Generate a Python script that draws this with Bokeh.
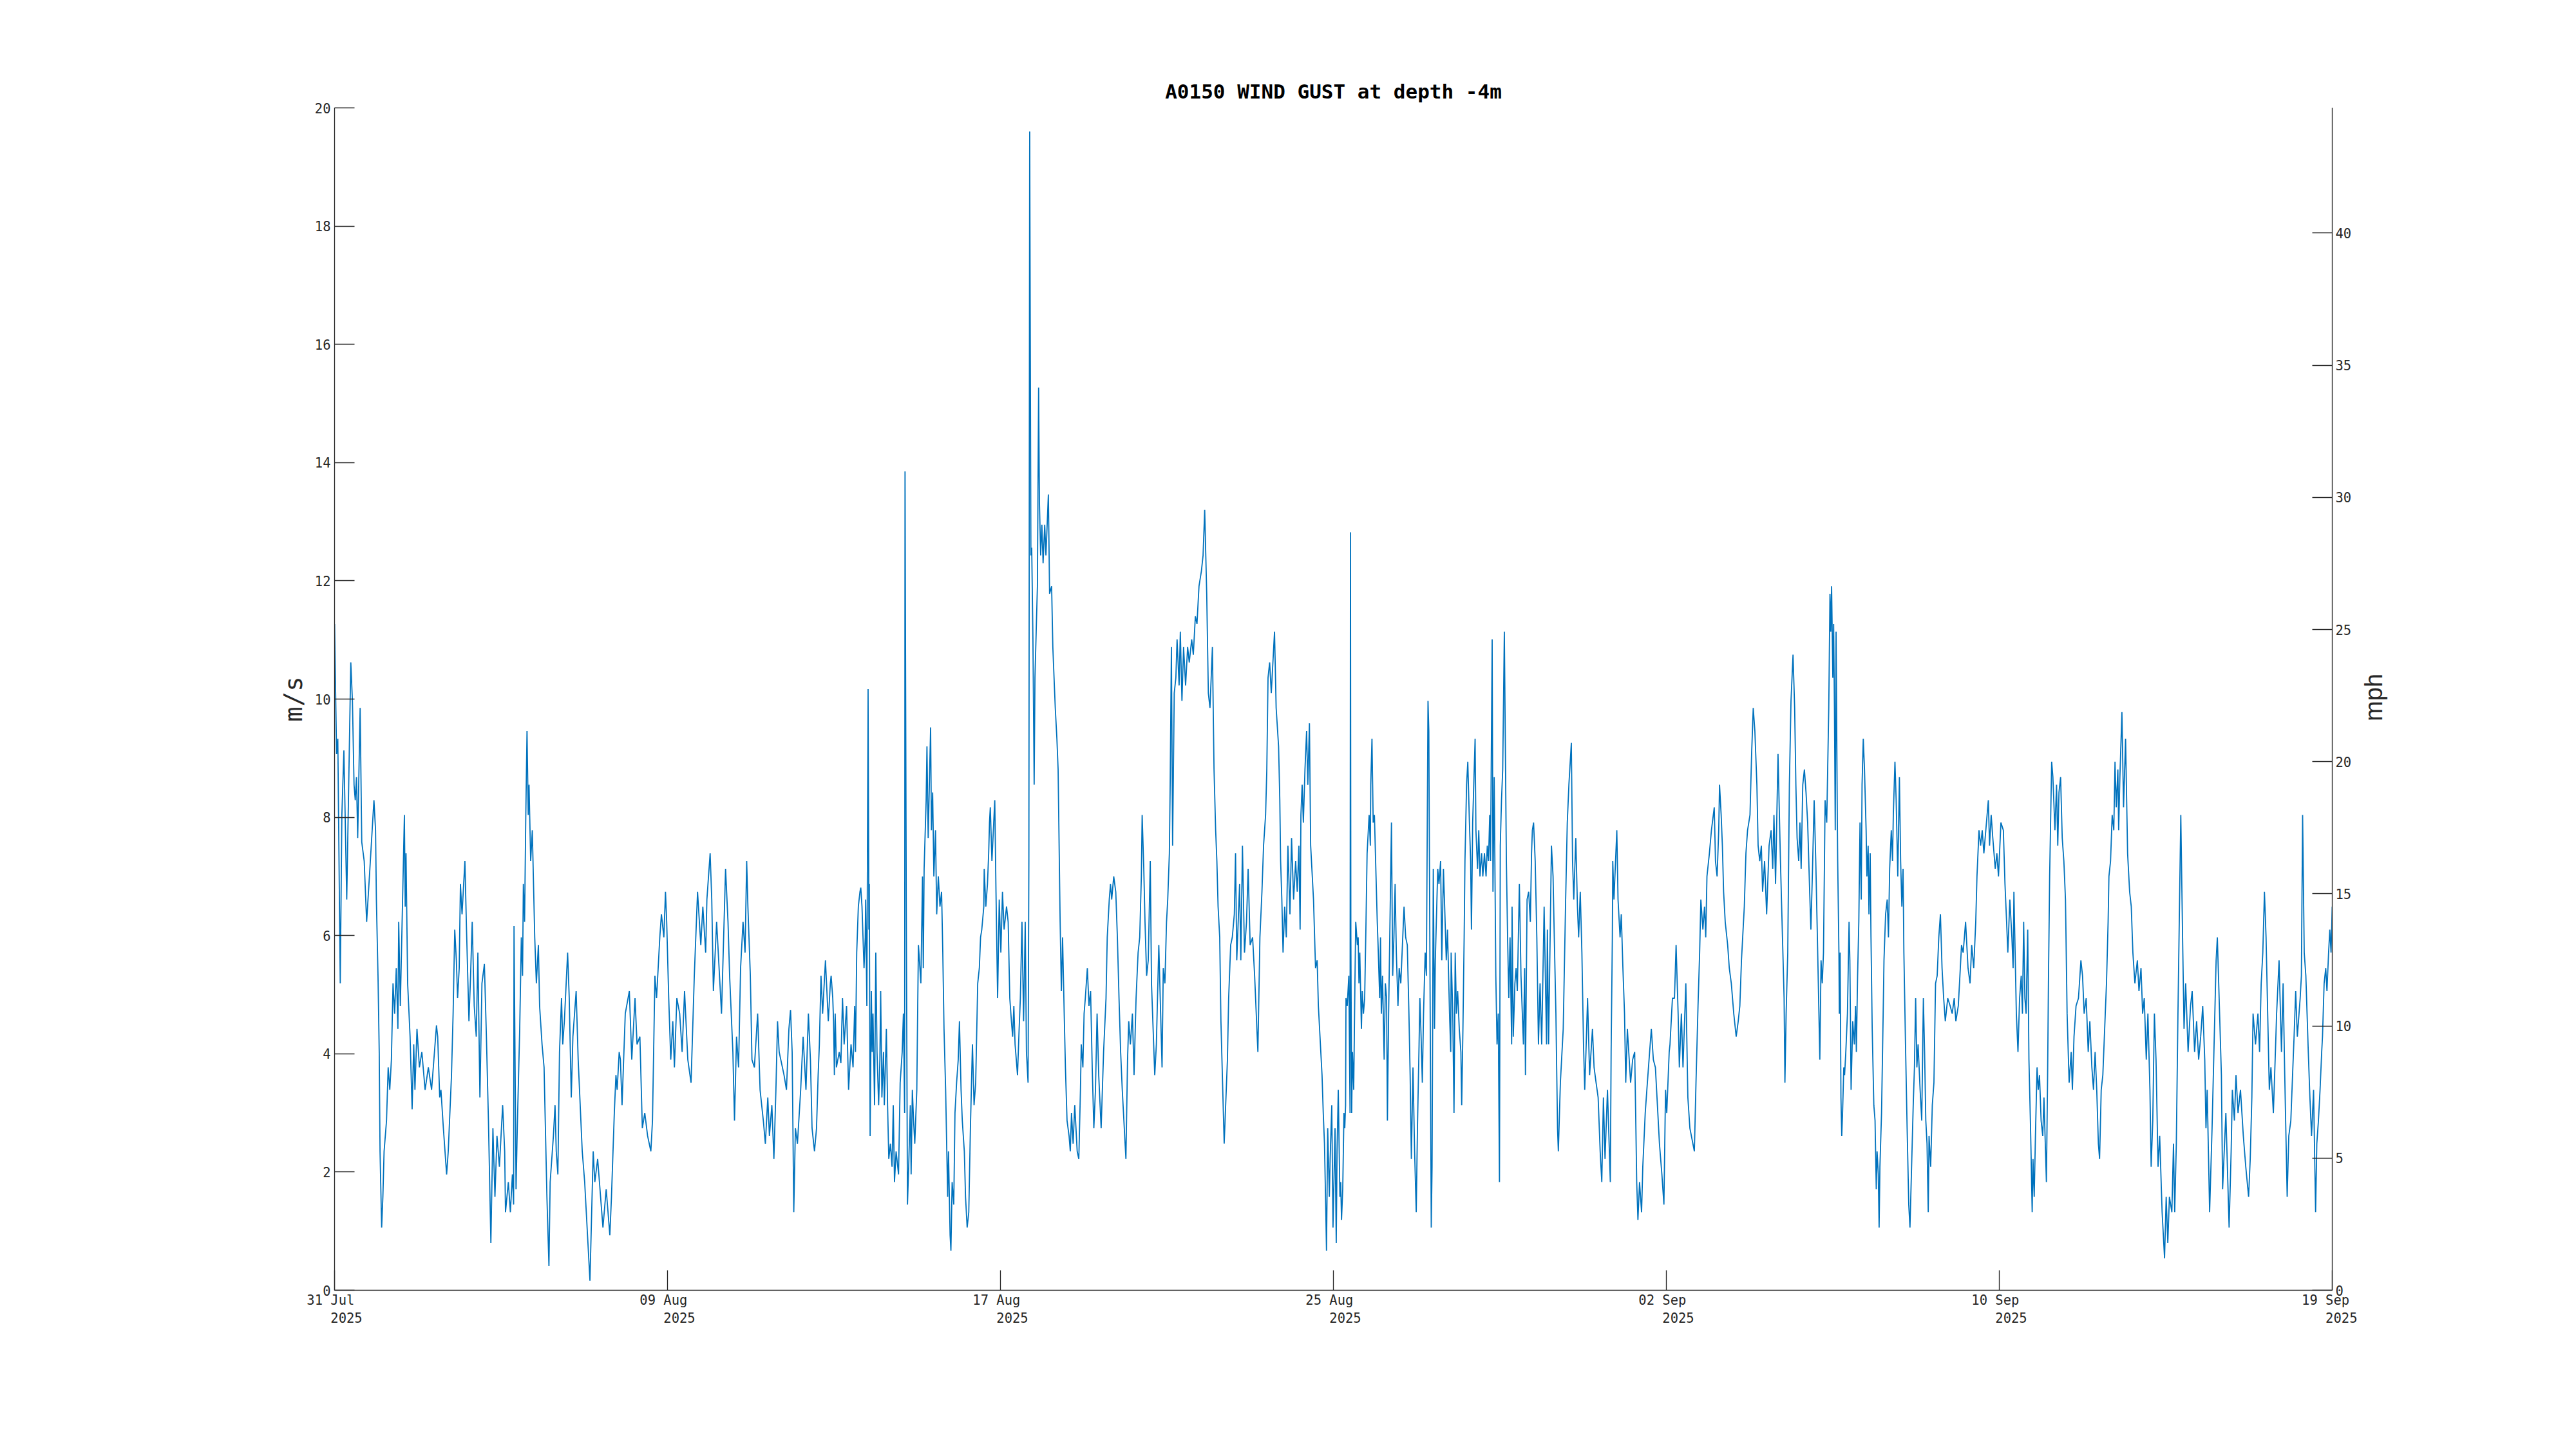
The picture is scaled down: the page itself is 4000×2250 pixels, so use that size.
import math
from bokeh.plotting import figure
from bokeh.layouts import row
from bokeh.models import ColumnDataSource, Range1d, LinearAxis, FixedTicker, Label
from bokeh.embed import file_html
from bokeh.resources import INLINE

TITLE = "A0150 WIND GUST at depth -4m"
Y_LABEL_LEFT = "m/s"
Y_LABEL_RIGHT = "mph"
MS_TO_MPH = 2.23694

# x is days since 31 Jul 2025 ~20:00 (start of record)
x_start, x_end = 0.0, 49.2
tick_days = [0.0, 8.2, 16.4, 24.6, 32.8, 41.0, 49.2]
tick_dates = ["31 Jul", "09 Aug", "17 Aug", "25 Aug", "02 Sep", "10 Sep", "19 Sep"]
tick_year = "2025"
left_ticks = [0, 2, 4, 6, 8, 10, 12, 14, 16, 18, 20]
right_ticks = [0, 5, 10, 15, 20, 25, 30, 35, 40]
y_min, y_max = 0, 20

# (day, gust m/s)
gust_jul31_aug12 = [
    (0.00, 11.27), (0.05, 9.07), (0.08, 9.33), (0.14, 5.19), (0.18, 8.04), (0.23, 9.13), (0.30, 6.61), (0.40, 10.62),
    (0.44, 9.97), (0.48, 8.55), (0.51, 8.29), (0.54, 8.68), (0.57, 7.65), (0.63, 9.85), (0.67, 7.58), (0.73, 7.26),
    (0.79, 6.23), (0.87, 7.13), (0.97, 8.29), (1.01, 7.78), (1.03, 6.61), (1.07, 5.32), (1.10, 4.03), (1.12, 2.35),
    (1.16, 1.06), (1.19, 1.58), (1.22, 2.35), (1.28, 2.87), (1.32, 3.77), (1.36, 3.39), (1.40, 3.90), (1.44, 5.19),
    (1.48, 4.68), (1.52, 5.45), (1.56, 4.42), (1.58, 6.23), (1.62, 4.81), (1.72, 8.04), (1.74, 6.49), (1.76, 7.39),
    (1.80, 5.19), (1.86, 4.29), (1.91, 3.06), (1.95, 4.16), (1.98, 3.39), (2.03, 4.42), (2.09, 3.77), (2.15, 4.03),
    (2.23, 3.39), (2.31, 3.77), (2.39, 3.39), (2.51, 4.48), (2.54, 4.29), (2.59, 3.26), (2.62, 3.39), (2.68, 2.74),
    (2.76, 1.96), (2.80, 2.35), (2.88, 3.64), (2.92, 4.68), (2.96, 6.10), (3.00, 5.58), (3.03, 4.94), (3.07, 5.45),
    (3.10, 6.87), (3.14, 6.36), (3.21, 7.26), (3.25, 6.10), (3.31, 4.55), (3.35, 5.32), (3.39, 6.23), (3.44, 4.81),
    (3.49, 4.29), (3.53, 5.71), (3.58, 3.26), (3.63, 5.19), (3.69, 5.52), (3.74, 4.29), (3.79, 2.87), (3.85, 0.80),
    (3.90, 2.74), (3.95, 1.58), (4.00, 2.61), (4.06, 2.09), (4.14, 3.13), (4.19, 2.35), (4.21, 1.32), (4.28, 1.83),
    (4.33, 1.32), (4.38, 1.96), (4.41, 1.45), (4.42, 6.16), (4.47, 1.71), (4.50, 2.74), (4.56, 4.42), (4.60, 5.97),
    (4.63, 5.32), (4.65, 6.87), (4.68, 6.23), (4.71, 8.04), (4.74, 9.46), (4.77, 8.04), (4.79, 8.55), (4.83, 7.26),
    (4.87, 7.78), (4.93, 5.97), (4.97, 5.19), (5.02, 5.84), (5.05, 4.81), (5.11, 4.16), (5.16, 3.77), (5.23, 1.58),
    (5.28, 0.41), (5.31, 1.83), (5.39, 2.61), (5.43, 3.13), (5.46, 2.35), (5.50, 1.96), (5.54, 4.03), (5.59, 4.94),
    (5.62, 4.16), (5.66, 4.55), (5.74, 5.71), (5.78, 4.94), (5.83, 3.26), (5.87, 4.29), (5.95, 5.06), (6.00, 3.90),
    (6.10, 2.35), (6.16, 1.83), (6.22, 1.06), (6.29, 0.16), (6.37, 2.35), (6.41, 1.83), (6.48, 2.22), (6.61, 1.06),
    (6.69, 1.71), (6.78, 0.93), (6.82, 1.58), (6.89, 3.00), (6.93, 3.64), (6.96, 3.39), (7.01, 4.03), (7.04, 3.90),
    (7.08, 3.13), (7.16, 4.68), (7.26, 5.06), (7.32, 3.90), (7.40, 4.94), (7.45, 4.16), (7.52, 4.29), (7.58, 2.74),
    (7.64, 3.00), (7.71, 2.61), (7.79, 2.35), (7.83, 2.87), (7.89, 5.32), (7.93, 4.94), (7.97, 5.45), (8.01, 5.97),
    (8.05, 6.36), (8.11, 5.97), (8.15, 6.74), (8.18, 6.23), (8.23, 4.94), (8.28, 3.90), (8.33, 4.55), (8.37, 3.77),
    (8.43, 4.94), (8.50, 4.68), (8.56, 4.03), (8.62, 5.06), (8.70, 3.90), (8.78, 3.51), (8.86, 5.32), (8.94, 6.74),
    (9.02, 5.84), (9.07, 6.49), (9.14, 5.71), (9.17, 6.61), (9.25, 7.39), (9.29, 6.61), (9.33, 5.06), (9.41, 6.23),
    (9.53, 4.68), (9.63, 7.13), (9.69, 6.23), (9.73, 5.32), (9.81, 4.03), (9.85, 2.87), (9.90, 4.29), (9.95, 3.77),
    (10.00, 5.45), (10.06, 6.23), (10.11, 5.71), (10.15, 7.26), (10.18, 6.49), (10.24, 5.32), (10.28, 3.90), (10.34, 3.77),
    (10.42, 4.68), (10.48, 3.39), (10.56, 2.87), (10.61, 2.48), (10.67, 3.26), (10.71, 2.61), (10.77, 3.13), (10.82, 2.22),
    (10.87, 3.39), (10.91, 4.55), (10.95, 4.03), (11.07, 3.64), (11.13, 3.39), (11.19, 4.42), (11.23, 4.74), (11.27, 4.03),
    (11.31, 1.32), (11.35, 2.74), (11.40, 2.48), (11.48, 3.39), (11.54, 4.29), (11.61, 3.39), (11.67, 4.68), (11.72, 3.90),
    (11.76, 2.74), (11.82, 2.35), (11.87, 2.74), (11.91, 3.64), (11.94, 4.16), (11.98, 5.32), (12.02, 4.68), (12.09, 5.58),
    (12.16, 4.55), (12.21, 5.19),
]

gust_aug12_aug25 = [
    (12.23, 5.32), (12.27, 4.94), (12.29, 4.55), (12.31, 3.64), (12.33, 4.68), (12.36, 3.77), (12.43, 4.03), (12.47, 3.84),
    (12.51, 4.94), (12.55, 4.16), (12.61, 4.81), (12.66, 3.39), (12.72, 4.16), (12.77, 3.77), (12.81, 4.81), (12.83, 4.03),
    (12.86, 5.71), (12.90, 6.49), (12.94, 6.74), (12.96, 6.81), (12.99, 6.49), (13.04, 5.45), (13.07, 5.97), (13.08, 6.61),
    (13.11, 4.81), (13.14, 10.17), (13.16, 6.10), (13.17, 6.87), (13.19, 2.61), (13.22, 5.06), (13.24, 4.03), (13.26, 4.68),
    (13.30, 3.13), (13.33, 5.71), (13.36, 4.03), (13.40, 3.13), (13.43, 3.90), (13.45, 5.06), (13.48, 3.26), (13.52, 4.03),
    (13.54, 3.13), (13.59, 4.42), (13.62, 3.13), (13.65, 2.22), (13.69, 2.48), (13.73, 2.09), (13.76, 3.13), (13.79, 1.83),
    (13.83, 2.35), (13.89, 1.96), (13.93, 3.51), (13.98, 4.03), (14.01, 4.68), (14.04, 3.00), (14.05, 13.85), (14.08, 6.61),
    (14.11, 1.45), (14.14, 2.09), (14.18, 3.13), (14.20, 1.96), (14.23, 3.39), (14.26, 2.87), (14.29, 2.48), (14.34, 3.39),
    (14.36, 4.68), (14.38, 5.84), (14.44, 5.19), (14.48, 7.00), (14.50, 5.45), (14.52, 7.13), (14.57, 8.29), (14.59, 9.20),
    (14.62, 7.65), (14.68, 9.52), (14.70, 7.78), (14.73, 8.42), (14.76, 7.00), (14.80, 7.78), (14.83, 6.36), (14.87, 7.00),
    (14.91, 6.49), (14.95, 6.74), (14.98, 5.71), (15.01, 4.42), (15.05, 3.39), (15.10, 1.58), (15.12, 2.35), (15.16, 0.93),
    (15.18, 0.67), (15.21, 1.83), (15.25, 1.45), (15.28, 3.00), (15.32, 3.51), (15.36, 3.90), (15.39, 4.55), (15.43, 3.39),
    (15.46, 2.87), (15.51, 2.35), (15.54, 1.58), (15.58, 1.06), (15.62, 1.32), (15.66, 2.74), (15.71, 4.16), (15.75, 3.13),
    (15.79, 3.51), (15.84, 5.19), (15.88, 5.45), (15.91, 5.97), (15.94, 6.10), (15.99, 6.49), (16.00, 7.13), (16.04, 6.49),
    (16.08, 6.87), (16.11, 7.39), (16.13, 7.91), (16.15, 8.17), (16.19, 7.26), (16.26, 8.29), (16.29, 6.74), (16.33, 4.94),
    (16.37, 6.61), (16.41, 5.71), (16.45, 6.74), (16.49, 6.10), (16.55, 6.49), (16.59, 6.23), (16.63, 4.94), (16.67, 4.55),
    (16.70, 4.29), (16.73, 4.81), (16.76, 4.16), (16.82, 3.64), (16.86, 4.42), (16.89, 4.94), (16.93, 6.23), (16.97, 4.55),
    (17.01, 6.23), (17.04, 4.03), (17.08, 3.51), (17.10, 7.26), (17.12, 19.60), (17.15, 12.43), (17.17, 12.56), (17.20, 11.01),
    (17.23, 8.55), (17.25, 10.36), (17.28, 11.14), (17.31, 11.91), (17.34, 15.27), (17.36, 13.33), (17.39, 12.43), (17.42, 12.95),
    (17.45, 12.30), (17.49, 12.95), (17.52, 12.43), (17.58, 13.46), (17.61, 11.78), (17.66, 11.91), (17.69, 10.88), (17.72, 10.36),
    (17.75, 9.85), (17.79, 9.33), (17.82, 8.81), (17.85, 7.26), (17.87, 6.23), (17.90, 5.06), (17.93, 5.97), (17.97, 4.68),
    (18.00, 3.77), (18.04, 2.87), (18.09, 2.61), (18.12, 2.35), (18.15, 3.00), (18.19, 2.48), (18.23, 3.13), (18.29, 2.35),
    (18.33, 2.22), (18.37, 3.39), (18.39, 4.16), (18.43, 3.77), (18.46, 4.68), (18.49, 4.94), (18.54, 5.45), (18.58, 4.81),
    (18.62, 5.06), (18.66, 3.77), (18.70, 2.74), (18.74, 3.39), (18.78, 4.68), (18.82, 3.64), (18.88, 2.74), (18.94, 4.03),
    (19.00, 4.94), (19.03, 5.97), (19.08, 6.61), (19.11, 6.87), (19.14, 6.61), (19.19, 7.00), (19.24, 6.74), (19.28, 5.97),
    (19.32, 4.94), (19.36, 4.03), (19.40, 3.39), (19.44, 2.87), (19.49, 2.22), (19.53, 3.90), (19.56, 4.55), (19.60, 4.16),
    (19.65, 4.68), (19.69, 3.64), (19.74, 4.94), (19.79, 5.71), (19.83, 5.97), (19.87, 7.00), (19.89, 8.04), (19.93, 7.13),
    (19.96, 6.23), (20.00, 5.32), (20.04, 5.58), (20.09, 7.26), (20.12, 5.19), (20.16, 4.42), (20.20, 3.64), (20.24, 4.16),
    (20.30, 5.84), (20.34, 4.81), (20.38, 3.77), (20.41, 5.45), (20.45, 5.19), (20.49, 6.23), (20.52, 6.61), (20.56, 7.39),
    (20.58, 8.55), (20.61, 10.88), (20.64, 7.52), (20.68, 10.10), (20.72, 10.36), (20.75, 11.01), (20.80, 10.23), (20.83, 11.14),
    (20.87, 9.97), (20.91, 10.88), (20.96, 10.23), (21.01, 10.88), (21.05, 10.62), (21.11, 11.01), (21.15, 10.75), (21.20, 11.40),
    (21.24, 11.27), (21.29, 11.91), (21.35, 12.17), (21.39, 12.43), (21.43, 13.20), (21.48, 11.78), (21.52, 10.10), (21.56, 9.85),
    (21.59, 10.36), (21.62, 10.88), (21.66, 8.81), (21.70, 7.78), (21.73, 7.26), (21.76, 6.49), (21.80, 5.97), (21.83, 4.55),
    (21.91, 2.48), (21.99, 3.90), (22.02, 4.94), (22.07, 5.84), (22.11, 5.97), (22.16, 6.36), (22.19, 7.39), (22.22, 5.58),
    (22.29, 6.87), (22.32, 5.58), (22.36, 7.52), (22.41, 5.71), (22.46, 6.23), (22.50, 7.13), (22.55, 5.84), (22.61, 5.97),
    (22.66, 5.32), (22.74, 4.03), (22.79, 5.97), (22.84, 6.74), (22.88, 7.52), (22.93, 8.04), (22.96, 8.81), (22.99, 10.36),
    (23.03, 10.62), (23.07, 10.10), (23.15, 11.14), (23.19, 9.85), (23.25, 9.20), (23.28, 8.29), (23.30, 7.26), (23.33, 6.61),
    (23.36, 5.71), (23.40, 6.49), (23.44, 5.97), (23.48, 7.52), (23.53, 6.36), (23.57, 7.65), (23.62, 6.61), (23.67, 7.26),
    (23.71, 6.74), (23.75, 7.52), (23.78, 6.10), (23.80, 8.04), (23.83, 8.55), (23.86, 7.91), (23.90, 8.81), (23.94, 9.46),
    (23.97, 8.55), (24.01, 9.59), (24.04, 7.52), (24.07, 7.13), (24.11, 6.61), (24.16, 5.45), (24.20, 5.58), (24.23, 4.81),
    (24.27, 4.29), (24.32, 3.64), (24.35, 3.00), (24.38, 2.48), (24.41, 1.45), (24.43, 0.67), (24.46, 2.74), (24.50, 1.58),
]

gust_aug25_sep06 = [
    (24.52, 2.22), (24.56, 3.13), (24.59, 1.06), (24.64, 2.74), (24.67, 0.80), (24.69, 2.35), (24.72, 3.39), (24.76, 1.58),
    (24.78, 1.83), (24.80, 1.19), (24.83, 1.71), (24.86, 3.00), (24.88, 2.74), (24.90, 3.13), (24.91, 4.94), (24.94, 4.81),
    (24.98, 5.32), (25.01, 3.00), (25.02, 12.82), (25.03, 5.97), (25.05, 3.00), (25.07, 4.03), (25.10, 3.39), (25.13, 5.19),
    (25.15, 6.23), (25.19, 5.84), (25.21, 5.97), (25.23, 5.19), (25.25, 5.71), (25.29, 4.42), (25.31, 5.06), (25.34, 4.68),
    (25.37, 4.94), (25.40, 6.10), (25.43, 7.39), (25.46, 7.78), (25.48, 8.04), (25.51, 7.52), (25.52, 8.55), (25.55, 9.33),
    (25.58, 7.91), (25.61, 8.04), (25.65, 7.00), (25.68, 6.23), (25.70, 5.84), (25.74, 4.94), (25.76, 5.97), (25.78, 4.68),
    (25.81, 5.32), (25.85, 3.90), (25.88, 5.19), (25.91, 4.94), (25.93, 2.87), (25.96, 4.68), (26.03, 7.91), (26.06, 5.32),
    (26.09, 5.97), (26.12, 6.87), (26.15, 5.71), (26.19, 4.81), (26.22, 5.45), (26.26, 5.19), (26.30, 5.84), (26.34, 6.49),
    (26.38, 5.97), (26.42, 5.84), (26.46, 4.68), (26.49, 3.64), (26.52, 2.22), (26.56, 3.77), (26.60, 2.35), (26.64, 1.32),
    (26.67, 2.74), (26.71, 4.16), (26.73, 4.94), (26.76, 4.29), (26.79, 3.51), (26.82, 4.68), (26.86, 5.71), (26.89, 5.32),
    (26.93, 9.97), (26.95, 9.46), (26.97, 6.61), (27.01, 1.06), (27.03, 2.09), (27.06, 7.13), (27.09, 4.42), (27.11, 5.58),
    (27.17, 7.13), (27.20, 6.87), (27.24, 7.26), (27.27, 5.58), (27.31, 7.13), (27.34, 6.49), (27.38, 5.58), (27.41, 6.10),
    (27.46, 4.68), (27.49, 4.03), (27.50, 5.71), (27.54, 4.68), (27.57, 3.00), (27.60, 5.71), (27.63, 4.68), (27.66, 5.06),
    (27.70, 4.42), (27.74, 4.03), (27.76, 3.13), (27.79, 4.42), (27.82, 5.97), (27.84, 7.26), (27.88, 8.55), (27.91, 8.94),
    (27.95, 7.91), (27.98, 7.26), (28.00, 6.10), (28.03, 7.91), (28.09, 9.33), (28.11, 7.78), (28.15, 7.13), (28.18, 7.78),
    (28.21, 7.00), (28.25, 7.39), (28.28, 7.00), (28.32, 7.39), (28.36, 7.00), (28.39, 7.52), (28.42, 7.26), (28.45, 8.04),
    (28.47, 7.26), (28.51, 11.01), (28.53, 6.74), (28.56, 8.68), (28.60, 5.32), (28.63, 4.16), (28.66, 4.68), (28.69, 1.83),
    (28.71, 7.52), (28.74, 8.29), (28.77, 8.81), (28.81, 11.14), (28.84, 8.81), (28.86, 7.26), (28.89, 5.97), (28.92, 4.94),
    (28.95, 5.97), (28.99, 4.16), (29.00, 6.49), (29.03, 4.29), (29.07, 5.19), (29.10, 5.45), (29.13, 5.06), (29.18, 6.87),
    (29.22, 5.32), (29.28, 4.16), (29.31, 5.45), (29.33, 3.64), (29.37, 6.61), (29.41, 6.74), (29.45, 6.23), (29.48, 7.39),
    (29.50, 7.78), (29.53, 7.91), (29.57, 7.26), (29.61, 5.97), (29.65, 4.16), (29.69, 5.19), (29.73, 4.16), (29.79, 6.49),
    (29.85, 4.16), (29.87, 6.10), (29.90, 4.16), (29.97, 7.52), (30.01, 7.00), (30.04, 5.97), (30.08, 4.68), (30.12, 2.74),
    (30.14, 2.35), (30.19, 3.51), (30.26, 4.42), (30.32, 6.61), (30.36, 7.91), (30.40, 8.55), (30.46, 9.26), (30.49, 7.26),
    (30.52, 6.61), (30.57, 7.65), (30.61, 6.49), (30.64, 5.97), (30.68, 6.74), (30.72, 5.71), (30.76, 4.16), (30.79, 3.39),
    (30.82, 4.03), (30.86, 4.94), (30.91, 3.64), (30.98, 4.42), (31.02, 3.77), (31.07, 3.51), (31.12, 3.26), (31.17, 2.35),
    (31.21, 1.83), (31.25, 3.26), (31.29, 2.22), (31.35, 3.39), (31.42, 1.83), (31.44, 4.03), (31.47, 5.97), (31.48, 7.26),
    (31.51, 6.61), (31.58, 7.78), (31.61, 6.61), (31.66, 5.97), (31.69, 6.36), (31.73, 5.45), (31.77, 4.68), (31.80, 3.51),
    (31.84, 4.42), (31.92, 3.51), (31.97, 3.90), (32.02, 4.03), (32.05, 2.74), (32.07, 1.83), (32.10, 1.19), (32.14, 1.83),
    (32.19, 1.32), (32.22, 2.09), (32.28, 3.00), (32.32, 3.39), (32.36, 3.77), (32.43, 4.42), (32.48, 3.90), (32.53, 3.77),
    (32.59, 3.00), (32.63, 2.48), (32.69, 1.96), (32.74, 1.45), (32.78, 3.39), (32.81, 3.00), (32.87, 4.03), (32.89, 4.16),
    (32.95, 4.94), (33.00, 4.94), (33.04, 5.84), (33.09, 4.68), (33.12, 3.77), (33.17, 4.68), (33.21, 3.77), (33.28, 5.19),
    (33.33, 3.26), (33.38, 2.74), (33.49, 2.35), (33.53, 3.51), (33.58, 4.81), (33.62, 5.71), (33.65, 6.61), (33.70, 6.10),
    (33.74, 6.49), (33.77, 5.97), (33.80, 7.00), (33.86, 7.39), (33.91, 7.78), (33.98, 8.17), (34.01, 7.26), (34.05, 7.00),
    (34.09, 7.78), (34.11, 8.55), (34.15, 8.04), (34.18, 7.52), (34.21, 6.74), (34.25, 6.23), (34.31, 5.84), (34.35, 5.45),
    (34.40, 5.19), (34.46, 4.68), (34.52, 4.29), (34.57, 4.55), (34.61, 4.81), (34.65, 5.58), (34.68, 5.97), (34.72, 6.49),
    (34.76, 7.39), (34.80, 7.78), (34.86, 8.04), (34.90, 9.07), (34.94, 9.85), (34.98, 9.46), (35.03, 8.55), (35.06, 7.52),
    (35.10, 7.26), (35.14, 7.52), (35.17, 6.74), (35.22, 7.26), (35.27, 6.36), (35.33, 7.52), (35.38, 7.78), (35.42, 7.13),
    (35.45, 8.04), (35.49, 6.87), (35.55, 9.07), (35.61, 7.26), (35.66, 5.97), (35.70, 4.94), (35.72, 3.51), (35.75, 4.68),
    (35.79, 5.71), (35.83, 8.55), (35.87, 9.97), (35.92, 10.75), (35.96, 9.85), (35.99, 8.55), (36.02, 7.65), (36.06, 7.26),
    (36.09, 7.91), (36.12, 7.13), (36.16, 8.55), (36.20, 8.81), (36.24, 8.42), (36.28, 7.91), (36.33, 6.74), (36.36, 6.10),
    (36.40, 7.13), (36.44, 8.29), (36.48, 7.26), (36.52, 5.97), (36.55, 4.94), (36.58, 3.90), (36.61, 5.58), (36.64, 5.19),
    (36.67, 5.71), (36.71, 8.29), (36.75, 7.91), (36.80, 9.85),
]

gust_sep06_sep19 = [
    (36.83, 11.78), (36.85, 11.14), (36.87, 11.91), (36.90, 10.36), (36.92, 11.27), (36.94, 9.85), (36.96, 7.78), (36.98, 11.14),
    (37.01, 8.04), (37.02, 7.26), (37.05, 5.71), (37.06, 4.68), (37.08, 5.71), (37.10, 3.26), (37.12, 2.61), (37.14, 3.00),
    (37.17, 3.77), (37.19, 3.64), (37.22, 4.03), (37.26, 4.68), (37.30, 6.23), (37.32, 5.58), (37.35, 3.39), (37.39, 4.55),
    (37.43, 4.16), (37.46, 4.81), (37.48, 4.03), (37.51, 5.32), (37.54, 6.23), (37.57, 7.91), (37.60, 6.61), (37.62, 8.55),
    (37.65, 9.33), (37.68, 8.81), (37.72, 7.78), (37.74, 7.00), (37.77, 7.52), (37.79, 6.36), (37.82, 7.39), (37.84, 5.97),
    (37.87, 4.42), (37.91, 3.13), (37.94, 2.87), (37.97, 1.71), (37.99, 2.35), (38.02, 1.96), (38.04, 1.06), (38.06, 2.09),
    (38.10, 3.00), (38.14, 4.68), (38.16, 5.58), (38.20, 6.36), (38.24, 6.61), (38.27, 5.97), (38.30, 7.13), (38.34, 7.78),
    (38.37, 7.26), (38.39, 8.04), (38.43, 8.94), (38.46, 8.29), (38.50, 7.00), (38.54, 8.68), (38.57, 7.26), (38.60, 6.49),
    (38.63, 7.13), (38.65, 5.71), (38.69, 4.16), (38.73, 2.74), (38.77, 1.45), (38.80, 1.06), (38.84, 2.09), (38.88, 3.13),
    (38.91, 3.77), (38.94, 4.94), (38.97, 3.77), (39.00, 4.16), (39.05, 3.39), (39.09, 2.87), (39.13, 4.94), (39.16, 4.03),
    (39.19, 2.87), (39.22, 2.48), (39.25, 1.32), (39.27, 2.61), (39.31, 2.09), (39.35, 3.13), (39.39, 3.51), (39.43, 5.19),
    (39.47, 5.32), (39.51, 5.97), (39.55, 6.36), (39.59, 5.45), (39.63, 4.94), (39.67, 4.55), (39.73, 4.94), (39.79, 4.81),
    (39.84, 4.68), (39.89, 4.94), (39.93, 4.55), (39.99, 4.81), (40.03, 5.32), (40.07, 5.84), (40.11, 5.71), (40.17, 6.23),
    (40.23, 5.45), (40.28, 5.19), (40.32, 5.84), (40.37, 5.45), (40.42, 6.23), (40.45, 7.00), (40.50, 7.78), (40.54, 7.52),
    (40.58, 7.78), (40.62, 7.39), (40.73, 8.29), (40.76, 7.52), (40.80, 8.04), (40.84, 7.65), (40.90, 7.13), (40.94, 7.39),
    (40.98, 7.00), (41.04, 7.91), (41.10, 7.78), (41.14, 6.87), (41.18, 6.23), (41.21, 5.71), (41.26, 6.61), (41.31, 5.97),
    (41.34, 5.45), (41.36, 6.74), (41.42, 4.68), (41.46, 4.03), (41.50, 4.94), (41.54, 5.32), (41.57, 4.68), (41.60, 6.23),
    (41.63, 4.94), (41.66, 4.68), (41.70, 6.10), (41.73, 3.90), (41.77, 2.74), (41.81, 1.32), (41.83, 2.22), (41.86, 1.58),
    (41.89, 2.61), (41.93, 3.77), (41.96, 3.39), (41.99, 3.64), (42.03, 2.87), (42.07, 2.61), (42.10, 3.26), (42.16, 1.83),
    (42.19, 3.64), (42.21, 5.19), (42.24, 7.00), (42.27, 8.17), (42.29, 8.94), (42.32, 8.68), (42.37, 7.78), (42.41, 8.55),
    (42.44, 7.52), (42.47, 8.42), (42.51, 8.68), (42.55, 7.65), (42.59, 7.26), (42.63, 6.61), (42.67, 4.68), (42.72, 3.51),
    (42.77, 4.03), (42.80, 3.39), (42.84, 4.29), (42.89, 4.81), (42.95, 4.94), (43.01, 5.58), (43.05, 5.32), (43.09, 4.68),
    (43.14, 4.94), (43.19, 4.03), (43.23, 4.55), (43.28, 3.77), (43.32, 3.39), (43.36, 4.03), (43.40, 3.39), (43.44, 2.48),
    (43.47, 2.22), (43.51, 3.39), (43.55, 3.64), (43.58, 4.16), (43.61, 4.68), (43.64, 5.19), (43.68, 6.23), (43.70, 7.00),
    (43.74, 7.26), (43.78, 8.04), (43.82, 7.78), (43.85, 8.94), (43.88, 8.17), (43.92, 8.81), (43.94, 7.78), (43.97, 8.68),
    (44.02, 9.78), (44.06, 8.17), (44.11, 9.33), (44.16, 7.39), (44.21, 6.74), (44.25, 6.49), (44.29, 5.71), (44.34, 5.19),
    (44.40, 5.58), (44.44, 5.06), (44.49, 5.45), (44.53, 4.68), (44.57, 4.94), (44.62, 3.90), (44.66, 4.68), (44.71, 3.39),
    (44.74, 2.09), (44.78, 2.87), (44.82, 4.68), (44.86, 3.90), (44.91, 2.09), (44.95, 2.61), (45.01, 1.32), (45.07, 0.54),
    (45.11, 1.58), (45.15, 0.80), (45.19, 1.58), (45.25, 1.32), (45.29, 2.48), (45.32, 1.32), (45.36, 2.48), (45.40, 4.68),
    (45.47, 8.04), (45.52, 5.71), (45.55, 4.42), (45.59, 5.19), (45.65, 4.03), (45.71, 4.81), (45.75, 5.06), (45.81, 4.03),
    (45.86, 4.55), (45.91, 3.90), (45.96, 4.29), (46.01, 4.81), (46.06, 3.90), (46.09, 2.74), (46.12, 3.39), (46.18, 1.32),
    (46.24, 2.74), (46.29, 4.16), (46.34, 5.58), (46.37, 5.97), (46.42, 4.81), (46.47, 3.64), (46.50, 1.71), (46.58, 3.00),
    (46.66, 1.06), (46.71, 2.35), (46.74, 3.39), (46.79, 2.87), (46.83, 3.64), (46.88, 3.00), (46.94, 3.39), (47.01, 2.61),
    (47.07, 2.09), (47.14, 1.58), (47.18, 2.22), (47.22, 3.26), (47.25, 4.68), (47.31, 4.16), (47.37, 4.68), (47.41, 4.03),
    (47.45, 5.19), (47.49, 5.71), (47.53, 6.74), (47.57, 5.97), (47.61, 4.68), (47.65, 3.39), (47.69, 3.77), (47.75, 3.00),
    (47.80, 4.03), (47.83, 4.68), (47.89, 5.58), (47.95, 4.03), (47.99, 5.19), (48.03, 3.64), (48.09, 1.58), (48.13, 2.61),
    (48.18, 2.87), (48.23, 3.77), (48.26, 4.29), (48.30, 5.06), (48.34, 4.29), (48.41, 4.94), (48.44, 5.32), (48.47, 8.04),
    (48.51, 5.71), (48.55, 5.32), (48.58, 4.68), (48.61, 4.03), (48.65, 3.26), (48.69, 2.61), (48.74, 3.39), (48.79, 1.32),
    (48.82, 2.48), (48.86, 2.87), (48.90, 3.39), (48.94, 4.03), (48.96, 4.29), (49.00, 5.19), (49.04, 5.45), (49.07, 5.06),
    (49.11, 5.71), (49.14, 6.10), (49.17, 5.71), (49.20, 6.49),
]

points = gust_jul31_aug12 + gust_aug12_aug25 + gust_aug25_sep06 + gust_sep06_sep19
source = ColumnDataSource(dict(day=[d for d, _ in points], gust=[g for _, g in points]))

TEXT = "#262626"
AXIS = "#262626"
NBSP = "\u00a0"

# page layout (pixels)
H = 2230
MAIN_W = 3660
SIDE_W = 320
FRAME_L, FRAME_T, FRAME_R, FRAME_B = 519, 167, 3621, 2003
MPH_LABEL_GAP = 64      # distance from right axis line to the centre of the "mph" title
MPH_LABEL_DROP = 27     # the "mph" title sits slightly below the frame's mid-height

p = figure(width=MAIN_W, height=H, output_backend="svg", toolbar_location=None,
           x_range=Range1d(x_start, x_end), y_range=Range1d(y_min, y_max),
           min_border_left=FRAME_L, min_border_right=MAIN_W - FRAME_R,
           min_border_top=FRAME_T, min_border_bottom=H - FRAME_B,
           title=TITLE)
p.outline_line_color = None
p.grid.visible = False
p.background_fill_color = "white"
p.border_fill_color = "white"

p.title.text_font = "DejaVu Sans Mono"
p.title.text_font_style = "bold"
p.title.text_font_size = "31px"
p.title.text_color = "black"
p.title.align = "center"
p.title.standoff = 15

p.line("day", "gust", source=source, line_color="#0072BD", line_width=1.8)

def style_axis(ax):
    ax.major_tick_in = 31
    ax.major_tick_out = 0
    ax.minor_tick_in = 0
    ax.minor_tick_out = 0
    ax.axis_line_color = AXIS
    ax.axis_line_width = 1.3
    ax.major_tick_line_color = AXIS
    ax.major_tick_line_width = 1.3
    ax.major_label_text_font = "DejaVu Sans Mono"
    ax.major_label_text_font_size = "20.5px"
    ax.major_label_text_color = TEXT
    ax.axis_label_text_font_style = "normal"
    ax.axis_label_text_color = TEXT

xa = p.xaxis[0]
style_axis(xa)
xa.ticker = FixedTicker(ticks=tick_days)
xa.major_label_overrides = {d: f"{lab}{NBSP}\n{NBSP * 3}{tick_year}" for d, lab in zip(tick_days, tick_dates)}
xa.major_label_standoff = 3

ya = p.yaxis[0]
style_axis(ya)
ya.ticker = FixedTicker(ticks=left_ticks)
ya.major_label_standoff = 6
ya.axis_label = Y_LABEL_LEFT
ya.axis_label_text_font = "DejaVu Sans Mono"
ya.axis_label_text_font_size = "39px"
ya.axis_label_standoff = 8

p.extra_y_ranges = {"mph": Range1d(y_min * MS_TO_MPH, y_max * MS_TO_MPH)}
ra = LinearAxis(y_range_name="mph", ticker=FixedTicker(ticks=right_ticks))
style_axis(ra)
ra.major_label_standoff = 5
p.add_layout(ra, "right")

# strip to the right of the plot carrying the right-hand axis title (reads bottom-to-top)
side = figure(width=SIDE_W, height=H, output_backend="svg", toolbar_location=None,
              x_axis_type=None, y_axis_type=None, min_border=0,
              x_range=Range1d(0, SIDE_W), y_range=Range1d(0, H))
side.outline_line_color = None
side.background_fill_color = "white"
side.border_fill_color = "white"
side.add_layout(Label(x=FRAME_R + MPH_LABEL_GAP - MAIN_W,
                      y=H - (FRAME_T + FRAME_B) / 2 - MPH_LABEL_DROP,
                      text=Y_LABEL_RIGHT, angle=math.pi / 2,
                      text_align="center", text_baseline="middle",
                      text_font="Liberation Sans", text_font_size="38px", text_color=TEXT))

layout = row(p, side, spacing=0)
open("out.html", "w").write(file_html(layout, INLINE))
